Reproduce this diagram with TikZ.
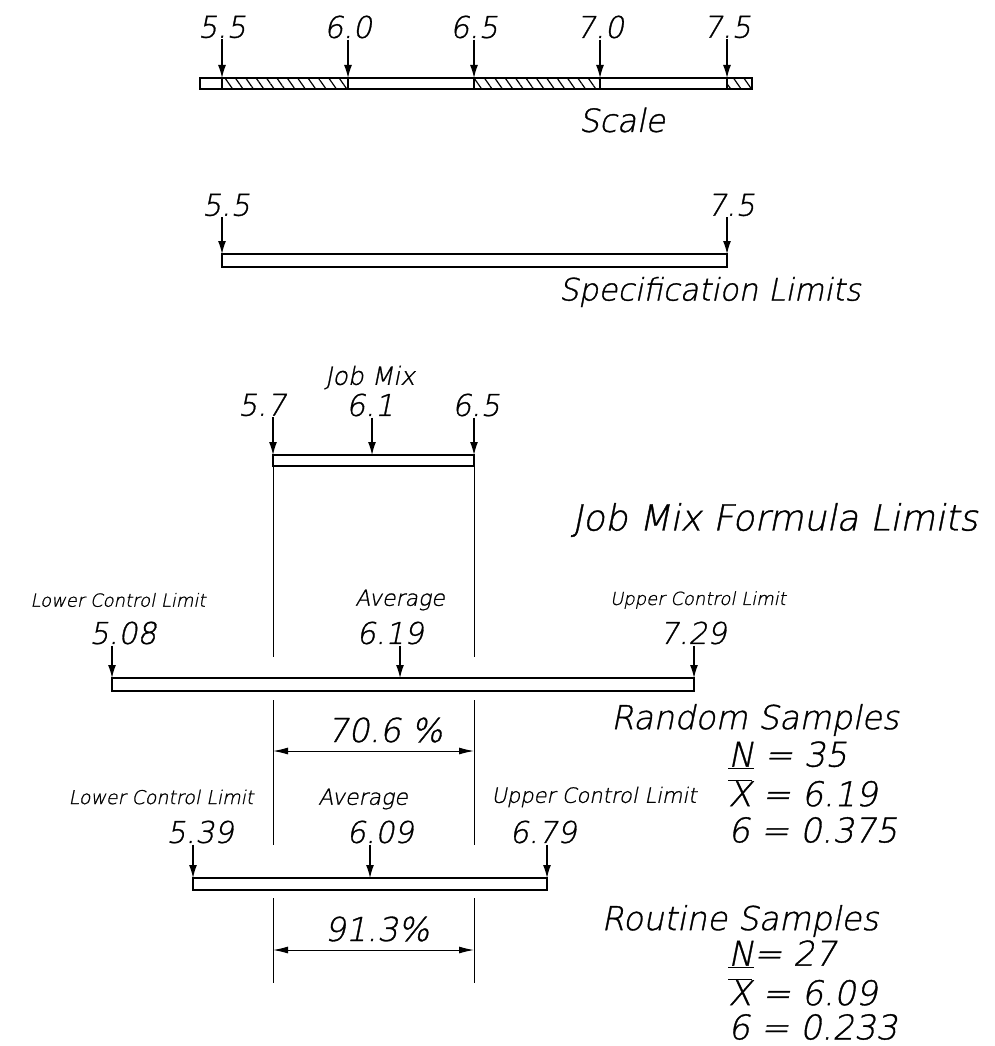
\documentclass[tikz,border=0pt]{standalone}
\usepackage{fontspec}
\setmainfont{DejaVu Sans ExtraLight}[FakeSlant=0.2, FakeBold=1]
\usetikzlibrary{arrows.meta,patterns.meta,positioning}
\tikzset{
  % Bar: two parallel lines closed at the ends
  bar/.style={draw, line width=1.2pt},
  hatch/.style={pattern={Lines[angle=-55, distance=8.5pt, line width=1.2pt]}},
  % Arrows
  tick/.style={-{Latex[length=13pt, width=8pt]}, line width=1.2pt},
  dimarr/.style={{Latex[length=15pt, width=7pt]}-{Latex[length=15pt, width=7pt]}, line width=1pt},
  extline/.style={line width=1pt},
  % Lettering
  numlab/.style={font=\fontsize{30}{32}\selectfont, inner sep=1pt},
  smalllab/.style={font=\fontsize{18}{20}\selectfont, inner sep=1pt},
  midlab/.style={font=\fontsize{22}{24}\selectfont, inner sep=1pt},
  title/.style={font=\fontsize{33}{36}\selectfont, inner sep=1pt},
  stat/.style={font=\fontsize{34}{36}\selectfont, inner sep=1pt, anchor=west}
}
\newcommand{\xbar}{$\overline{\mbox{X}}$}

\begin{document}
\begin{tikzpicture}[x=1pt, y=-1pt]
\useasboundingbox (0,0) rectangle (995,1046);

% ============== SCALE ==============
\path[hatch] (222,78) rectangle (348,89) (474,78) rectangle (600,89) (727,78) rectangle (752,89);
\draw[bar] (200,78) rectangle (752,89);
\foreach \v/\x in {5.5/222, 6.0/348, 6.5/474, 7.0/600, 7.5/727} {
  \coordinate (sc\x) at (\x,78);
  \node[numlab] (scl\x) at (\x,27) {\v};
  \draw[bar] (sc\x) -- ++(0,11);
  \draw[tick] (scl\x.south -| sc\x) -- (sc\x);
}
\node[title, font=\fontsize{32}{34}\selectfont] (scale) at (622,120) {Scale};

% ============== SPECIFICATION LIMITS ==============
\draw[bar] (222,254) rectangle (727,267);
\coordinate (sp1) at (222,254);
\coordinate (sp2) at (727,254);
\node[numlab] (spl1) at (226,205) {5.5};
\node[numlab] (spl2) at (731,205) {7.5};
\draw[tick] (spl1.south -| sp1) -- (sp1);
\draw[tick] (spl2.south -| sp2) -- (sp2);
\node[title, font=\fontsize{31}{34}\selectfont] (spec) at (710,292) {Specification Limits};

% ============== JOB MIX FORMULA LIMITS ==============
\draw[bar] (273,455) rectangle (474,466);
\coordinate (jm1) at (273,455);
\coordinate (jm2) at (372,455);
\coordinate (jm3) at (474,455);
\node[numlab] (jml1) at (262,405) {5.7};
\node[numlab] (jml2) at (370,405) {6.1};
\node[numlab] (jml3) at (476,405) {6.5};
\node[midlab, font=\fontsize{25}{27}\selectfont, above=2pt of jml2] (jobmix) {Job Mix};
\foreach \i in {1,2,3} {
  \draw[tick] (jml\i.south -| jm\i) -- (jm\i);
}
\node[title, font=\fontsize{36}{38}\selectfont] (jmf) at (775,520) {Job Mix Formula Limits};

% extension lines of the job mix limits
\foreach \x in {273,474} {
  \draw[extline] (\x,466) -- (\x,657) (\x,700) -- (\x,845) (\x,898) -- (\x,983);
}

% ============== RANDOM SAMPLES ==============
\draw[bar] (112,678) rectangle (694,691);
\coordinate (rs1) at (112,678);
\coordinate (rs2) at (400,678);
\coordinate (rs3) at (694,678);
\node[smalllab] (rsh1) at (118,600) {Lower Control Limit};
\node[midlab] (rsh2) at (400,600) {Average};
\node[smalllab] (rsh3) at (698,600) {Upper Control Limit};
\node[numlab] (rsl1) at (123,633) {5.08};
\node[numlab] (rsl2) at (390,633) {6.19};
\node[numlab] (rsl3) at (693,633) {7.29};
\foreach \i in {1,2,3} {
  \draw[tick] (rsl\i.south -| rs\i) -- (rs\i);
}
\coordinate (rd1) at (273,751);
\coordinate (rd2) at (474,751);
\draw[dimarr] (rd1) -- (rd2);
\node[title] (rpct) at (385,730) {70.6 \%};

\node[title] (rtitle) at (755,720) {Random Samples};
\node[stat] (rn) at (727,755) {\underline{N} = 35};
\node[stat] (rx) at (727,793) {\xbar{} = 6.19};
\node[stat] (rsd) at (727,830) {6 = 0.375};

% ============== ROUTINE SAMPLES ==============
\draw[bar] (193,878) rectangle (547,890);
\coordinate (ts1) at (193,878);
\coordinate (ts2) at (370,878);
\coordinate (ts3) at (547,878);
\node[smalllab, font=\fontsize{19}{21}\selectfont] (tsh1) at (161,797) {Lower Control Limit};
\node[midlab] (tsh2) at (363,799) {Average};
\node[smalllab, font=\fontsize{21}{23}\selectfont] (tsh3) at (594,797) {Upper Control Limit};
\node[numlab] (tsl1) at (200,832) {5.39};
\node[numlab] (tsl2) at (380,832) {6.09};
\node[numlab] (tsl3) at (543,832) {6.79};
\foreach \i in {1,2,3} {
  \draw[tick] (tsl\i.south -| ts\i) -- (ts\i);
}
\coordinate (td1) at (273,950);
\coordinate (td2) at (474,950);
\draw[dimarr] (td1) -- (td2);
\node[title] (tpct) at (377,929) {91.3\%};

\node[title] (ttitle) at (740,921) {Routine Samples};
\node[stat] (tn) at (727,954) {\underline{N}= 27};
\node[stat] (tx) at (727,992) {\xbar{} = 6.09};
\node[stat] (tsd) at (727,1027) {6 = 0.233};

\end{tikzpicture}
\end{document}
